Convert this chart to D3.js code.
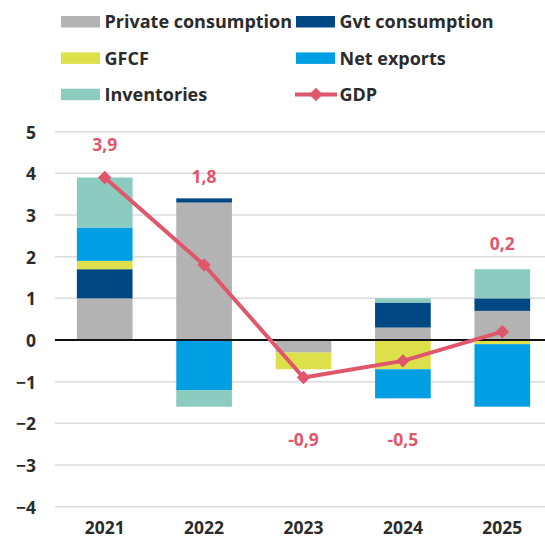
<!DOCTYPE html>
<html><head><meta charset="utf-8">
<script src="https://cdn.jsdelivr.net/npm/d3@7"></script>
<style>
html,body{margin:0;padding:0;background:#fff;}
svg text{font-family:"Open Sans",sans-serif;font-weight:700;}
</style></head>
<body><svg id="c" width="545" height="544"></svg>
<script>
const years = ["2021","2022","2023","2024","2025"];
const privateConsumption = [1.0, 3.3, -0.3, 0.3, 0.7];
const gvtConsumption = [0.7, 0.1, 0.0, 0.6, 0.3];
const gfcf = [0.2, 0.0, -0.4, -0.7, -0.1];
const netExports = [0.8, -1.2, 0.0, -0.7, -1.5];
const inventories = [1.2, -0.4, 0.0, 0.1, 0.7];
const gdp = [3.9, 1.8, -0.9, -0.5, 0.2];
const gdpLabels = ["3,9", "1,8", "-0,9", "-0,5", "0,2"];
const gdpLabelAt = [4.69, 3.91, -2.4, -2.4, 2.32];
const yTicks = [5, 4, 3, 2, 1, 0, -1, -2, -3, -4];

const seriesNames = ["Private consumption","Gvt consumption","GFCF","Net exports","Inventories"];
const seriesColors = ["#b3b3b3","#004884","#dde04a","#009fe3","#8ccbc0"];
const seriesData = [privateConsumption, gvtConsumption, gfcf, netExports, inventories];
const gdpColor = "#e0576c";
const textColor = "#2b2b2b";
const fs = 17.5;
const legendFs = 18;

const rows = years.map((yr,i)=>{
  const o = {year: yr};
  seriesNames.forEach((s,k)=>o[s]=seriesData[k][i]);
  return o;
});
const stacked = d3.stack().keys(seriesNames).offset(d3.stackOffsetDiverging)(rows);

const svg = d3.select("#c");
const x = d3.scaleBand().domain(years).range([55, 552]).paddingInner(0.44).paddingOuter(0.22);
const y = d3.scaleLinear().domain([-4, 5]).range([506.7, 131.7]);

// grid
svg.append("g").selectAll("line").data(yTicks.filter(t=>t!==0)).join("line")
  .attr("x1", 55).attr("x2", 552).attr("y1", d=>y(d)).attr("y2", d=>y(d))
  .attr("stroke", "#dcdcdc").attr("stroke-width", 1.5);

// y axis labels
const yAxis = d3.axisLeft(y).tickValues(yTicks).tickSize(0).tickPadding(0).tickFormat(d3.format("d"));
const ya = svg.append("g").attr("transform","translate(36,0)").call(yAxis);
ya.select(".domain").remove();
ya.selectAll("text").attr("font-size", fs).attr("fill", textColor).attr("dy","0.36em")
  .style("font-family","'Open Sans',sans-serif").style("font-weight",700);

// x axis labels
const xAxis = d3.axisBottom(x).tickSize(0).tickPadding(0);
const xa = svg.append("g").attr("transform","translate(0,522)").call(xAxis);
xa.select(".domain").remove();
xa.selectAll("text").attr("font-size", fs).attr("fill", textColor)
  .style("font-family","'Open Sans',sans-serif").style("font-weight",700);

// bars
svg.append("g").selectAll("g").data(stacked).join("g")
  .attr("fill", (d,i)=>seriesColors[i])
  .selectAll("rect").data(d=>d).join("rect")
  .attr("x", d=>x(d.data.year))
  .attr("width", x.bandwidth())
  .attr("y", d=>y(Math.max(d[0],d[1])))
  .attr("height", d=>Math.abs(y(d[0])-y(d[1])));

// zero line
svg.append("line").attr("x1",55).attr("x2",552).attr("y1",y(0)).attr("y2",y(0))
  .attr("stroke","#111").attr("stroke-width",2);

// GDP line
const cx = yr => x(yr) + x.bandwidth()/2;
const line = d3.line().x((d,i)=>cx(years[i])).y(d=>y(d));
svg.append("path").datum(gdp).attr("d", line).attr("fill","none")
  .attr("stroke", gdpColor).attr("stroke-width", 4);
const diamond = d3.symbol().type(d3.symbolDiamond2).size(115);
svg.append("g").selectAll("path").data(gdp).join("path")
  .attr("d", diamond)
  .attr("transform", (d,i)=>`translate(${cx(years[i])},${y(d)})`)
  .attr("fill", gdpColor);

// GDP labels
svg.append("g").selectAll("text").data(gdpLabels).join("text")
  .attr("x", (d,i)=>cx(years[i]))
  .attr("y", (d,i)=>y(gdpLabelAt[i]))
  .attr("dy","0.36em")
  .attr("text-anchor","middle")
  .attr("font-size",fs)
  .attr("fill", gdpColor)
  .text(d=>d);

// legend
const legendItems = [
  {name:"Private consumption", color:seriesColors[0], col:0, row:0},
  {name:"Gvt consumption", color:seriesColors[1], col:1, row:0},
  {name:"GFCF", color:seriesColors[2], col:0, row:1},
  {name:"Net exports", color:seriesColors[3], col:1, row:1},
  {name:"Inventories", color:seriesColors[4], col:0, row:2},
  {name:"GDP", color:gdpColor, col:1, row:2, line:true}
];
const colX = [61, 296];
const rowY = [21.8, 58.2, 94.5];
const lg = svg.append("g");
legendItems.forEach(it=>{
  const gx = colX[it.col], gy = rowY[it.row];
  if (it.line) {
    lg.append("line").attr("x1", gx-1).attr("x2", gx+41).attr("y1", gy).attr("y2", gy)
      .attr("stroke", it.color).attr("stroke-width", 4);
    lg.append("path").attr("d", diamond).attr("transform", `translate(${gx+20},${gy})`).attr("fill", it.color);
  } else {
    lg.append("rect").attr("x", gx).attr("y", gy-5.8).attr("width", 39).attr("height", 11.5).attr("fill", it.color);
  }
  lg.append("text").attr("x", gx+43.5).attr("y", gy).attr("dy","0.36em")
    .attr("font-size",legendFs).attr("fill", textColor).text(it.name);
});
</script></body></html>
